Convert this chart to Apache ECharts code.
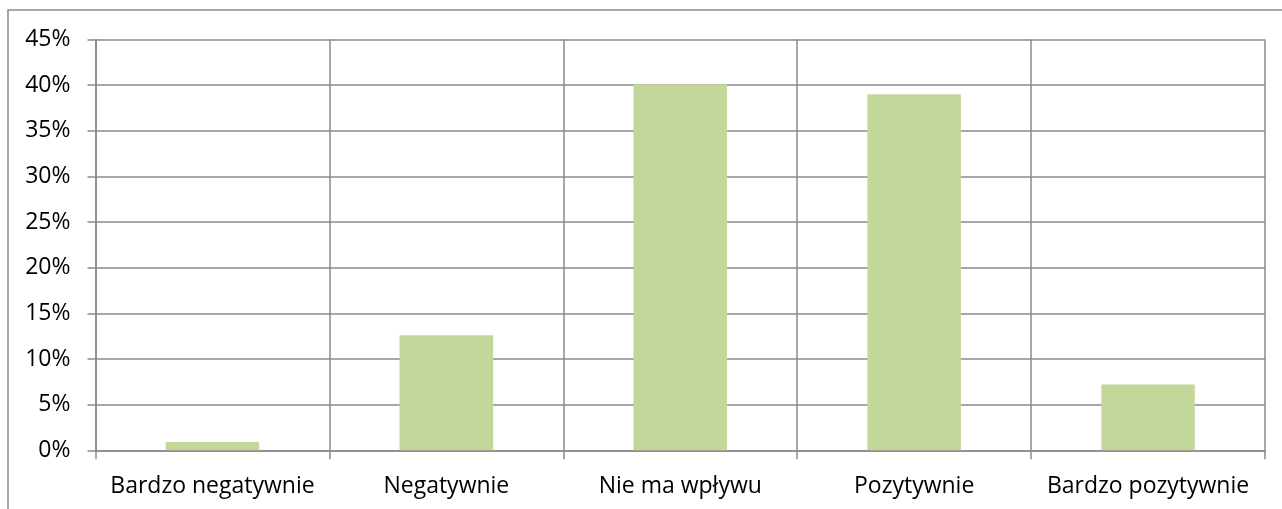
<!DOCTYPE html>
<html>
<head>
<meta charset="utf-8">
<script src="https://cdn.jsdelivr.net/npm/echarts@6/dist/echarts.min.js"></script>
<style>
  html, body { margin: 0; padding: 0; background: #fff; }
  #chart { width: 1282px; height: 509px; }
</style>
</head>
<body>
<div id="chart"></div>
<script>
// kategorie i wartosci (w procentach)
var categories = ['Bardzo negatywnie', 'Negatywnie', 'Nie ma wpływu', 'Pozytywnie', 'Bardzo pozytywnie'];
var values = [0.9, 12.6, 40.1, 39.0, 7.2];
var yTicks = [0, 5, 10, 15, 20, 25, 30, 35, 40, 45];

var lineColor = '#8a8a8a';
var font = '"Open Sans", sans-serif';

var myChart = echarts.init(document.getElementById('chart'), null, { renderer: 'canvas' });

var option = {
  animation: false,
  graphic: [
    {
      type: 'rect',
      shape: { x: 8, y: 10, width: 1320, height: 560 },
      style: { fill: 'none', stroke: lineColor, lineWidth: 1.5 },
      silent: true
    }
  ],
  grid: { left: 95.5, right: 17, top: 39.5, bottom: 58.7 },
  xAxis: {
    type: 'category',
    data: categories,
    boundaryGap: true,
    axisLine: { show: true, lineStyle: { color: lineColor, width: 1.5 } },
    axisTick: { show: true, length: 9, lineStyle: { color: lineColor, width: 1.5 } },
    splitLine: { show: true, lineStyle: { color: lineColor, width: 1.5 } },
    axisLabel: { color: '#000', fontFamily: font, fontSize: 23, margin: 25, interval: 0 }
  },
  yAxis: {
    type: 'value',
    min: yTicks[0],
    max: yTicks[yTicks.length - 1],
    interval: 5,
    axisLine: { show: true, lineStyle: { color: lineColor, width: 1.5 } },
    axisTick: { show: true, length: 8, lineStyle: { color: lineColor, width: 1.5 } },
    splitLine: { show: true, lineStyle: { color: lineColor, width: 1.5 } },
    axisLabel: {
      color: '#000', fontFamily: font, fontSize: 23, margin: 25,
      formatter: function (v) { return v + '%'; }
    }
  },
  series: [
    {
      type: 'bar',
      data: values,
      barWidth: '40%',
      itemStyle: { color: '#c4d79b' }
    }
  ]
};
myChart.setOption(option);
</script>
</body>
</html>
